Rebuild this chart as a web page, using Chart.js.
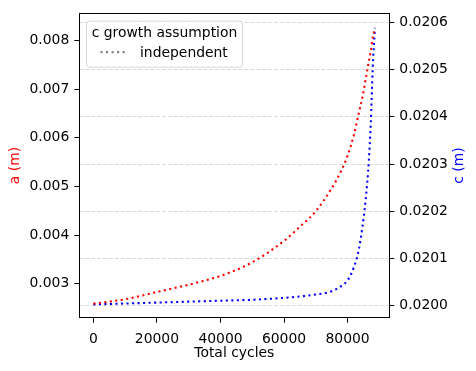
<!DOCTYPE html>
<html>
<head>
<meta charset="utf-8">
<script src="https://cdn.jsdelivr.net/npm/chart.js@4.4.0/dist/chart.umd.min.js"></script>
<style>
  html, body { margin: 0; padding: 0; background: #fff; }
</style>
</head>
<body>
<canvas id="grafico" width="476" height="371"></canvas>
<script>
// datos
const ciclos  = [0, 10000, 20000, 30000, 40000, 50000, 60000, 65000, 70000, 75000, 78000, 80000, 82000, 83500, 84700, 85700, 86700, 87300, 87900, 88600];
const valoresA = [0.00259, 0.00268, 0.00283, 0.00298, 0.00316, 0.00344, 0.00388, 0.00417, 0.00449, 0.00496, 0.00532, 0.00563, 0.00606, 0.00649, 0.00684, 0.00720, 0.00757, 0.00778, 0.00805, 0.00826];
const valoresC = [0.020003, 0.020005, 0.020007, 0.020009, 0.020011, 0.020013, 0.020017, 0.020020, 0.020024, 0.020031, 0.020042, 0.020054, 0.020082, 0.020118, 0.020168, 0.020225, 0.020308, 0.020385, 0.020500, 0.020588];
const ticksX = [0, 20000, 40000, 60000, 80000];
const ticksA = [0.003, 0.004, 0.005, 0.006, 0.007, 0.008];
const ticksC = [0.0200, 0.0201, 0.0202, 0.0203, 0.0204, 0.0205, 0.0206];

const FUENTE = "'DejaVu Sans', sans-serif";
Chart.defaults.font.family = FUENTE;
Chart.defaults.font.size = 13.9;
Chart.defaults.color = '#000';

const punteado = [2.08, 3.44];

// marco de arriba + leyenda + titulo del eje derecho
const extras = {
  id: 'extras',
  afterDatasetsDraw(chart) {
    const ctx = chart.ctx;
    const ca = chart.chartArea;
    ctx.save();
    // marco
    ctx.strokeStyle = '#000';
    ctx.lineWidth = 1;
    ctx.strokeRect(Math.round(ca.left) + 0.5, Math.round(ca.top) + 0.5, Math.round(ca.right - ca.left), Math.round(ca.bottom - ca.top));

    // leyenda
    const lx = ca.left + 6.7, ly = ca.top + 7.3, lw = 156, lh = 46;
    ctx.beginPath();
    ctx.roundRect(lx + 0.5, ly + 0.5, lw, lh, 3);
    ctx.fillStyle = 'rgba(255,255,255,0.8)';
    ctx.fill();
    ctx.strokeStyle = '#d6d6d6';
    ctx.stroke();

    ctx.fillStyle = '#000';
    ctx.font = '13.9px ' + FUENTE;
    ctx.textAlign = 'left';
    ctx.textBaseline = 'alphabetic';
    ctx.fillText('c growth assumption', lx + 5.7, ly + 16);
    ctx.fillText('independent', lx + 54, ly + 36);

    ctx.beginPath();
    ctx.setLineDash(punteado);
    ctx.strokeStyle = '#808080';
    ctx.lineWidth = 2.08;
    ctx.moveTo(lx + 14.5, ly + 31.5);
    ctx.lineTo(lx + 42, ly + 31.5);
    ctx.stroke();
    ctx.setLineDash([]);

    // titulo eje derecho (girado como el izquierdo)
    ctx.translate(459.5, (ca.top + ca.bottom) / 2);
    ctx.rotate(-Math.PI / 2);
    ctx.textAlign = 'center';
    ctx.textBaseline = 'middle';
    ctx.fillStyle = 'blue';
    ctx.fillText('c (m)', 0, 0);
    ctx.restore();
  }
};

const datos = {
  datasets: [
    {
      label: 'a',
      data: ciclos.map((n, i) => ({x: n, y: valoresA[i]})),
      borderColor: 'red',
      borderWidth: 2.08,
      borderDash: punteado,
      pointRadius: 0,
      cubicInterpolationMode: 'monotone',
      yAxisID: 'y'
    },
    {
      label: 'c',
      data: ciclos.map((n, i) => ({x: n, y: valoresC[i]})),
      borderColor: 'blue',
      borderWidth: 2.08,
      borderDash: punteado,
      pointRadius: 0,
      cubicInterpolationMode: 'monotone',
      yAxisID: 'y1'
    }
  ]
};

new Chart(document.getElementById('grafico'), {
  type: 'line',
  data: datos,
  plugins: [extras],
  options: {
    responsive: false,
    animation: false,
    devicePixelRatio: 1,
    layout: { padding: { top: 10, left: 0, right: 0, bottom: 0 } },
    plugins: { legend: { display: false }, tooltip: { enabled: false } },
    scales: {
      x: {
        type: 'linear',
        min: -4435,
        max: 93135,
        afterBuildTicks: s => { s.ticks = ticksX.map(v => ({value: v})); },
        afterFit: s => { s.height = 53.3; },
        ticks: { padding: 8, maxRotation: 0, callback: v => String(v) },
        grid: { drawOnChartArea: false, tickLength: 5, tickColor: '#000' },
        border: { color: '#000', width: 1 },
        title: { display: true, text: 'Total cycles', padding: { top: 4, bottom: 9 } }
      },
      y: {
        position: 'left',
        min: 0.002301,
        max: 0.008555,
        afterBuildTicks: s => { s.ticks = ticksA.map(v => ({value: v})); },
        afterFit: s => { s.width = 79.3; },
        ticks: { padding: 5, callback: v => v.toFixed(3) },
        grid: { drawOnChartArea: false, tickLength: 5, tickColor: '#000' },
        border: { color: '#000', width: 1 },
        title: { display: true, text: 'a (m)', color: 'red', padding: { top: 7, bottom: 7 } }
      },
      y1: {
        position: 'right',
        min: 0.019975,
        max: 0.020619,
        afterBuildTicks: s => { s.ticks = ticksC.map(v => ({value: v})); },
        afterFit: s => { s.width = 86.7; },
        ticks: { padding: 5, callback: v => v.toFixed(4) },
        grid: { drawOnChartArea: true, color: '#d9d9d9', lineWidth: 1, tickLength: 5, tickColor: '#000', tickBorderDash: [] },
        border: { color: '#000', width: 1, dash: [4.1, 1.8] }
      }
    }
  }
});
</script>
</body>
</html>
